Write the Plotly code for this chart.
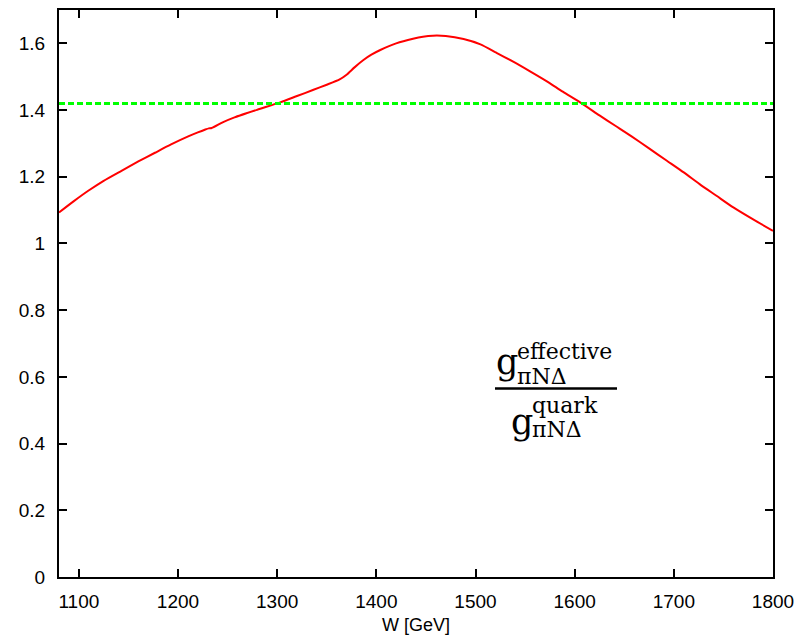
import plotly.graph_objects as go

# Data
w_values = [1080, 1095, 1109.5, 1125, 1143, 1160, 1176.8, 1193, 1210.3, 1220, 1227, 1231, 1234,
            1245, 1257, 1280, 1303, 1320, 1336, 1350, 1363, 1370, 1378, 1387, 1395, 1404,
            1420, 1437, 1447, 1457, 1470, 1488, 1505, 1521, 1538, 1555, 1572, 1588, 1607,
            1625, 1641, 1657, 1675, 1693, 1710, 1726, 1743, 1760, 1780, 1800]
ratio_values = [1.093, 1.127, 1.158, 1.188, 1.218, 1.246, 1.272, 1.297, 1.321, 1.333, 1.341, 1.345, 1.346,
                1.363, 1.378, 1.401, 1.423, 1.442, 1.460, 1.476, 1.492, 1.506, 1.528, 1.550, 1.566, 1.580,
                1.600, 1.614, 1.620, 1.623, 1.622, 1.613, 1.597, 1.572, 1.545, 1.516, 1.486, 1.455, 1.420,
                1.384, 1.353, 1.322, 1.285, 1.248, 1.213, 1.178, 1.143, 1.108, 1.072, 1.038]
ref_x = [1080, 1800]
ref_y = [1.42, 1.42]

x_ticks = [1100, 1200, 1300, 1400, 1500, 1600, 1700, 1800]
y_ticks = [0, 0.2, 0.4, 0.6, 0.8, 1.0, 1.2, 1.4, 1.6]
y_tick_text = ["0", "0.2", "0.4", "0.6", "0.8", "1", "1.2", "1.4", "1.6"]

fig = go.Figure()
fig.add_trace(go.Scatter(x=w_values, y=ratio_values, mode="lines",
                         line=dict(color="red", width=2, shape="spline", smoothing=0.6),
                         showlegend=False))
fig.add_trace(go.Scatter(x=ref_x, y=ref_y, mode="lines",
                         line=dict(color="rgb(0,255,0)", width=3, dash="6px,3px"), showlegend=False))

# pixel -> data helpers for the label placement
L, R, T, B = 59, 773, 8, 578
def px2x(px):
    return 1080 + (px - L) / (R - L) * 720
def py2y(py):
    return (B - py) / (B - T) * 1.7

serif = "DejaVu Serif"
ann = []
def add(text, px, py, size):
    ann.append(dict(text=text, x=px2x(px), y=py2y(py), xref="x", yref="y",
                    xanchor="left", yanchor="middle", showarrow=False,
                    font=dict(family=serif, size=size, color="black")))

# numerator
add("g", 494, 362, 35)
add("effective", 515, 351, 22)
add("πNΔ", 515, 376, 22)
# denominator
add("g", 509, 422, 35)
add("quark", 530, 406, 22)
add("πNΔ", 530, 430, 22)

fig.add_shape(type="line", x0=px2x(495), x1=px2x(617), y0=py2y(388.5), y1=py2y(388.5),
              xref="x", yref="y", line=dict(color="black", width=2.5))

fig.update_layout(
    width=808, height=640,
    margin=dict(l=L, r=808 - R, t=T, b=640 - B),
    paper_bgcolor="white", plot_bgcolor="white",
    font=dict(family="Liberation Sans", size=19, color="black"),
    annotations=ann,
    xaxis=dict(range=[1080, 1800], tickvals=x_ticks, ticks="inside", ticklen=8, tickwidth=1.5,
               tickcolor="black", showline=True, linecolor="black", linewidth=2, mirror="allticks",
               showgrid=False, zeroline=False, ticklabelstandoff=6,
               title=dict(text="W [GeV]", font=dict(size=18), standoff=8)),
    yaxis=dict(range=[0, 1.7], tickvals=y_ticks, ticktext=y_tick_text, ticks="inside", ticklen=8,
               tickwidth=1.5, tickcolor="black", showline=True, linecolor="black", linewidth=2,
               mirror="allticks", showgrid=False, zeroline=False, ticklabelstandoff=8),
)

fig.write_html("out.html")
